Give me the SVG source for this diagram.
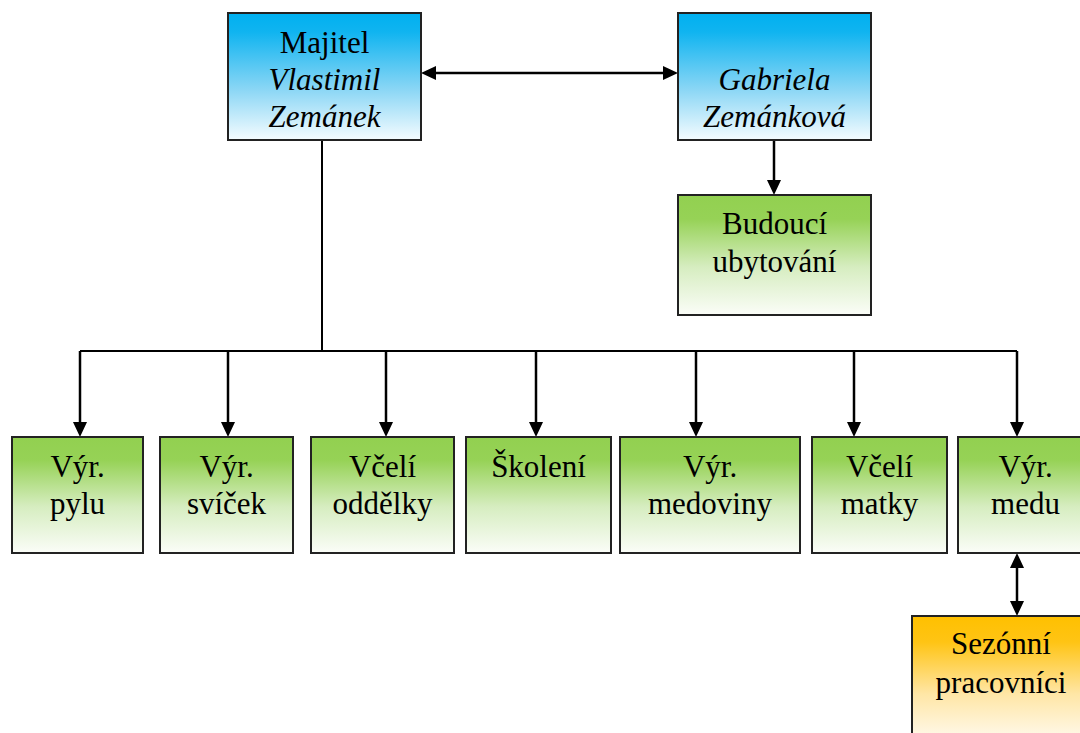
<svg xmlns="http://www.w3.org/2000/svg" width="1080" height="733" viewBox="0 0 1080 733">
<style>
.box{stroke:#222;stroke-width:2}
.t{font-family:"Liberation Serif","Times New Roman","DejaVu Serif",serif;font-size:31px;fill:#000;text-anchor:middle}
.i{font-style:italic}
.arr{fill:none;stroke:#000;stroke-width:2.5}
.bus{fill:none;stroke:#000;stroke-width:2}
</style>
<defs>
<linearGradient id="gBlue" x1="0" y1="0" x2="0" y2="1">
<stop offset="0" stop-color="#00b0f0"/>
<stop offset="0.15" stop-color="#10b4f0"/>
<stop offset="0.6" stop-color="#8ad6f5"/>
<stop offset="1" stop-color="#f5fcff"/>
</linearGradient>
<linearGradient id="gGreen" x1="0" y1="0" x2="0" y2="1">
<stop offset="0" stop-color="#92d050"/>
<stop offset="0.2" stop-color="#96d256"/>
<stop offset="0.6" stop-color="#d6edc0"/>
<stop offset="1" stop-color="#fbfdf8"/>
</linearGradient>
<linearGradient id="gOrange" x1="0" y1="0" x2="0" y2="1">
<stop offset="0" stop-color="#ffc000"/>
<stop offset="0.2" stop-color="#ffc414"/>
<stop offset="0.6" stop-color="#ffe6a6"/>
<stop offset="1" stop-color="#fffcf5"/>
</linearGradient>
<marker id="ah" markerUnits="userSpaceOnUse" markerWidth="16" markerHeight="16" refX="3" refY="7" orient="auto-start-reverse">
<path d="M0,0 L15,7 L0,14 z" fill="#000"/>
</marker>
</defs>
<rect width="1080" height="733" fill="#fff"/>

<g id="connectors">
<path class="arr" d="M433,73 H666" marker-start="url(#ah)" marker-end="url(#ah)"/>
<path class="arr" d="M774,140 V183" marker-end="url(#ah)"/>
<path class="bus" d="M322,140 V351"/>
<path class="bus" d="M80,351 H1017"/>
<path class="arr" d="M80,351 V425" marker-end="url(#ah)"/>
<path class="arr" d="M228,351 V425" marker-end="url(#ah)"/>
<path class="arr" d="M386,351 V425" marker-end="url(#ah)"/>
<path class="arr" d="M536,351 V425" marker-end="url(#ah)"/>
<path class="arr" d="M696,351 V425" marker-end="url(#ah)"/>
<path class="arr" d="M854,351 V425" marker-end="url(#ah)"/>
<path class="arr" d="M1017,351 V425" marker-end="url(#ah)"/>
<path class="arr" d="M1017,565 V604" marker-start="url(#ah)" marker-end="url(#ah)"/>
</g>

<g id="majitel">
<rect class="box" x="228" y="13" width="193" height="127" fill="url(#gBlue)"/>
<text class="t" x="324.5" y="53">Majitel</text>
<text class="t i" x="324.5" y="90">Vlastimil</text>
<text class="t i" x="324.5" y="127">Zemánek</text>
</g>

<g id="gabriela">
<rect class="box" x="678" y="13" width="193" height="127" fill="url(#gBlue)"/>
<text class="t i" x="774.5" y="90">Gabriela</text>
<text class="t i" x="774.5" y="127">Zemánková</text>
</g>

<g id="budouci">
<rect class="box" x="678" y="195" width="193" height="120" fill="url(#gGreen)"/>
<text class="t" x="774.5" y="234">Budoucí</text>
<text class="t" x="774.5" y="272">ubytování</text>
</g>

<g id="pyl">
<rect class="box" x="12" y="437" width="131" height="116" fill="url(#gGreen)"/>
<text class="t" x="77.5" y="477">Výr.</text>
<text class="t" x="77.5" y="514">pylu</text>
</g>

<g id="svicky">
<rect class="box" x="160" y="437" width="133" height="116" fill="url(#gGreen)"/>
<text class="t" x="226.5" y="477">Výr.</text>
<text class="t" x="226.5" y="514">svíček</text>
</g>

<g id="oddelky">
<rect class="box" x="311" y="437" width="143" height="116" fill="url(#gGreen)"/>
<text class="t" x="382.5" y="477">Včelí</text>
<text class="t" x="382.5" y="514">oddělky</text>
</g>

<g id="skoleni">
<rect class="box" x="466" y="437" width="145" height="116" fill="url(#gGreen)"/>
<text class="t" x="538.5" y="477">Školení</text>
</g>

<g id="medovina">
<rect class="box" x="620" y="437" width="180" height="116" fill="url(#gGreen)"/>
<text class="t" x="710" y="477">Výr.</text>
<text class="t" x="710" y="514">medoviny</text>
</g>

<g id="matky">
<rect class="box" x="812" y="437" width="135" height="116" fill="url(#gGreen)"/>
<text class="t" x="879.5" y="477">Včelí</text>
<text class="t" x="879.5" y="514">matky</text>
</g>

<g id="med">
<rect class="box" x="958" y="437" width="135" height="116" fill="url(#gGreen)"/>
<text class="t" x="1025.5" y="477">Výr.</text>
<text class="t" x="1025.5" y="514">medu</text>
</g>

<g id="sezonni">
<rect class="box" x="912" y="616" width="178" height="130" fill="url(#gOrange)"/>
<text class="t" x="1001" y="654">Sezónní</text>
<text class="t" x="1001" y="693">pracovníci</text>
</g>
</svg>
